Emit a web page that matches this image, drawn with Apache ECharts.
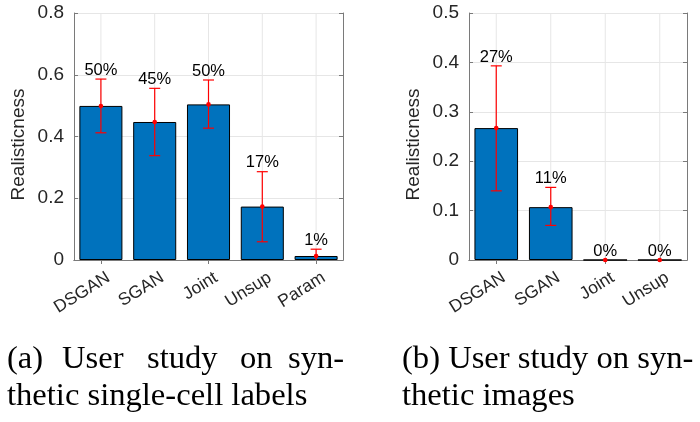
<!DOCTYPE html>
<html><head><meta charset="utf-8">
<script src="https://cdn.jsdelivr.net/npm/echarts@6/dist/echarts.min.js"></script>
<style>html,body{margin:0;padding:0;background:#fff}#c{width:700px;height:422px}</style>
</head><body><div id="c"></div>
<script>
// Panel (a): synthetic single-cell labels
var catsA = ['DSGAN', 'SGAN', 'Joint', 'Unsup', 'Param'];
var valsA = [0.499, 0.447, 0.504, 0.173, 0.013];
var upperA = [0.586, 0.556, 0.583, 0.286, 0.035];
var lowerA = [0.412, 0.338, 0.427, 0.059, -0.009];
var pctA = ['50%', '45%', '50%', '17%', '1%'];
// Panel (b): synthetic images
var catsB = ['DSGAN', 'SGAN', 'Joint', 'Unsup'];
var valsB = [0.267, 0.107, 0, 0];
var upperB = [0.393, 0.147, 0, 0];
var lowerB = [0.140, 0.070, 0, 0];
var pctB = ['27%', '11%', '0%', '0%'];
// Y-axis ranges
var yMaxA = 0.8, yStepA = 0.2;
var yMaxB = 0.5, yStepB = 0.1;
var yName = 'Realisticness';
var capA1 = ['(a)', 'User', 'study', 'on', 'syn-'];
var capA2 = 'thetic single-cell labels';
var capB1 = '(b) User study on syn-';
var capB2 = 'thetic images';

var SANS = 'Liberation Sans';
var SERIF = 'Liberation Serif';
var AX = '#7a7a7a';
var TXT = '#262626';
var GRIDC = '#e6e6e6';
var LABEL_OFF = 0.036;

function xAxes(cats, gi) {
  return [{
    type: 'category', data: cats, gridIndex: gi, position: 'bottom',
    axisLine: {lineStyle: {color: AX, width: 1}},
    axisTick: {show: true, inside: true, alignWithLabel: true, length: 4, lineStyle: {color: AX}},
    axisLabel: {rotate: 32, fontFamily: SANS, fontSize: 17.5, color: TXT, margin: 21, padding: [0, -9, 0, 0]},
    splitLine: {show: false}
  }, {
    type: 'category', data: cats, gridIndex: gi, position: 'top',
    axisLine: {lineStyle: {color: AX, width: 1}},
    axisTick: {show: true, inside: true, alignWithLabel: true, length: 4, lineStyle: {color: AX}},
    axisLabel: {show: false}, splitLine: {show: false}
  }];
}
function yAxes(max, step, gi) {
  return [{
    type: 'value', gridIndex: gi, min: 0, max: max, interval: step, position: 'left',
    name: yName, nameLocation: 'middle', nameRotate: 90, nameGap: 46,
    nameTextStyle: {fontFamily: SANS, fontSize: 19, color: TXT, padding: [0, 16, 0, 0]},
    axisLine: {show: true, lineStyle: {color: AX, width: 1}},
    axisTick: {show: true, inside: true, length: 4, lineStyle: {color: AX}},
    axisLabel: {fontFamily: SANS, fontSize: 19, color: TXT, margin: 10},
    splitLine: {show: true, lineStyle: {color: GRIDC, width: 1}}
  }, {
    type: 'value', gridIndex: gi, min: 0, max: max, interval: step, position: 'right',
    axisLine: {show: true, lineStyle: {color: AX, width: 1}},
    axisTick: {show: true, inside: true, length: 4, lineStyle: {color: AX}},
    axisLabel: {show: false}, splitLine: {show: false}
  }];
}

function gridSeries(cats, max, xi, yi) {
  return {
    type: 'custom', xAxisIndex: xi, yAxisIndex: yi, z: 1, silent: true,
    data: cats.map(function (c, i) { return [i]; }),
    renderItem: function (params, api) {
      var i = api.value(0);
      var top = api.coord([i, max]);
      var bot = api.coord([i, 0]);
      return {type: 'line', shape: {x1: top[0], y1: top[1], x2: bot[0], y2: bot[1]}, style: {stroke: GRIDC, lineWidth: 1}};
    }
  };
}

function errSeries(vals, up, lo, pct, max, xi, yi) {
  var data = vals.map(function (v, i) { return [i, v, up[i], lo[i], pct[i]]; });
  return {
    type: 'custom', xAxisIndex: xi, yAxisIndex: yi, clip: false, z: 10, silent: true,
    data: data,
    renderItem: function (params, api) {
      var i = api.value(0);
      var pv = api.coord([i, api.value(1)]);
      var pu = api.coord([i, api.value(2)]);
      var lov = Math.max(api.value(3), 0);
      var pl = api.coord([i, lov]);
      var pt = api.coord([i, api.value(2) + LABEL_OFF * max]);
      var cap = 5.5;
      var red = '#ff0000';
      var ch = [];
      if (api.value(2) !== api.value(3)) {
        ch.push({type: 'line', shape: {x1: pu[0], y1: pu[1], x2: pl[0], y2: pl[1]}, style: {stroke: red, lineWidth: 1.2}});
        ch.push({type: 'line', shape: {x1: pu[0] - cap, y1: pu[1], x2: pu[0] + cap, y2: pu[1]}, style: {stroke: red, lineWidth: 1.2}});
        if (api.value(3) >= 0) {
          ch.push({type: 'line', shape: {x1: pl[0] - cap, y1: pl[1], x2: pl[0] + cap, y2: pl[1]}, style: {stroke: red, lineWidth: 1.2}});
        }
      }
      ch.push({type: 'circle', shape: {cx: pv[0], cy: pv[1], r: 2.3}, style: {fill: red}});
      ch.push({type: 'text', style: {text: api.value(4), x: pt[0], y: pt[1], align: 'center', verticalAlign: 'middle', fontFamily: SANS, fontSize: 16.5, fill: '#000'}});
      return {type: 'group', children: ch};
    }
  };
}

function barSeries(vals, xi, yi) {
  return {
    type: 'bar', xAxisIndex: xi, yAxisIndex: yi, data: vals, barWidth: '80%',
    itemStyle: {color: '#0072BD', borderColor: '#000', borderWidth: 1},
    z: 5, silent: true
  };
}

var graphics = [];
var capXA = [7, 62, 147, 240, 288];
var base1 = 370, base2 = 407;
var CAPFS = 32.6;
capA1.forEach(function (w, i) {
  graphics.push({type: 'text', left: capXA[i], top: base1 - 27, style: {text: w, fontFamily: SERIF, fontSize: CAPFS, fill: '#000'}});
});
graphics.push({type: 'text', left: 7, top: base2 - 27, style: {text: capA2, fontFamily: SERIF, fontSize: CAPFS, fill: '#000'}});
graphics.push({type: 'text', left: 402, top: base1 - 27, style: {text: capB1, fontFamily: SERIF, fontSize: CAPFS, fill: '#000'}});
graphics.push({type: 'text', left: 402, top: base2 - 27, style: {text: capB2, fontFamily: SERIF, fontSize: CAPFS, fill: '#000'}});

var chart = echarts.init(document.getElementById('c'), null, {renderer: 'canvas'});
chart.setOption({
  animation: false,
  backgroundColor: '#fff',
  grid: [
    {left: 74, right: 357, top: 13, bottom: 162},
    {left: 469, right: 13, top: 13, bottom: 162}
  ],
  xAxis: xAxes(catsA, 0).concat(xAxes(catsB, 1)),
  yAxis: yAxes(yMaxA, yStepA, 0).concat(yAxes(yMaxB, yStepB, 1)),
  series: [
    gridSeries(catsA, yMaxA, 0, 0),
    barSeries(valsA, 0, 0),
    errSeries(valsA, upperA, lowerA, pctA, yMaxA, 0, 0),
    gridSeries(catsB, yMaxB, 2, 2),
    barSeries(valsB, 2, 2),
    errSeries(valsB, upperB, lowerB, pctB, yMaxB, 2, 2)
  ],
  graphic: graphics
});
</script></body></html>
